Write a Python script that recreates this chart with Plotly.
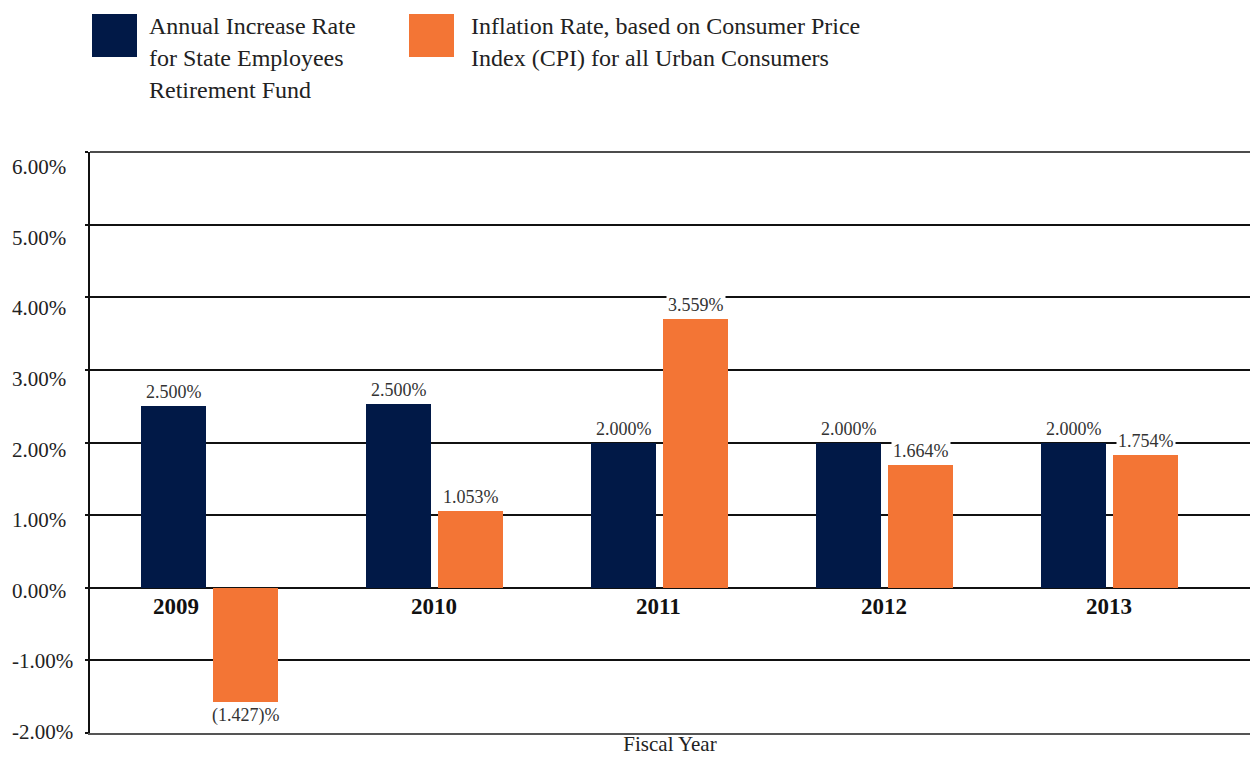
import plotly.graph_objects as go

# ---- data ----
years = ["2009", "2010", "2011", "2012", "2013"]
retirement_rate = [2.50, 2.53, 2.00, 2.00, 2.00]          # bar heights as drawn
cpi_rate = [-1.57, 1.05, 3.70, 1.69, 1.83]                # bar heights as drawn
retirement_labels = ["2.500%", "2.500%", "2.000%", "2.000%", "2.000%"]
cpi_labels = ["(1.427)%", "1.053%", "3.559%", "1.664%", "1.754%"]
y_tickvals = [-2, -1, 0, 1, 2, 3, 4, 5, 6]
y_ticktext = ["-2.00%", "-1.00%", "0.00%", "1.00%", "2.00%", "3.00%", "4.00%", "5.00%", "6.00%"]
legend_navy = ["Annual Increase Rate", "for State Employees", "Retirement Fund"]
legend_orange = ["Inflation Rate, based on Consumer Price", "Index (CPI) for all Urban Consumers"]

NAVY = "#011947"
ORANGE = "#F37535"
FONT = "Liberation Serif"

W, H = 1250, 757
ML, MR, MT, MB = 90, 0, 152, 24
PW, PH = W - ML - MR, H - MT - MB

def px(x):
    return (x - ML) / PW

def py(y):
    return (H - MB - y) / PH

BW = 0.289
NAVY_OFF = -0.302
ORANGE_OFF = 0.018

fig = go.Figure()
fig.add_trace(go.Bar(x=years, y=retirement_rate, marker=dict(color=NAVY, line=dict(width=0)),
                     width=BW, offset=NAVY_OFF, name=legend_navy[0], showlegend=False))
fig.add_trace(go.Bar(x=years, y=cpi_rate, marker=dict(color=ORANGE, line=dict(width=0)),
                     width=BW, offset=ORANGE_OFF, name=legend_orange[0], showlegend=False))

ann = []
for i, y in enumerate(years):
    # data labels
    for val, lab, off in ((retirement_rate[i], retirement_labels[i], NAVY_OFF),
                          (cpi_rate[i], cpi_labels[i], ORANGE_OFF)):
        ann.append(dict(x=i + off + BW / 2, y=val, xref="x", yref="y", text=lab,
                        showarrow=False, yanchor="bottom" if val >= 0 else "top",
                        yshift=2 if val >= 0 else -1, bgcolor="white", borderpad=1,
                        font=dict(family=FONT, size=18, color="#333333")))
    # category labels
    ann.append(dict(x=i, y=0, xref="x", yref="y", text="<b>%s</b>" % y, showarrow=False,
                    yanchor="middle", yshift=-19, xshift=-33 if i == 0 else 0,
                    font=dict(family=FONT, size=23, color="#111111")))

# y tick labels (left aligned, as in the reference)
for v, t in zip(y_tickvals, y_ticktext):
    ann.append(dict(x=px(10), y=v, xref="paper", yref="y", text=t, showarrow=False,
                    xanchor="left", yanchor="middle", yshift=-(3 + 2.0 * v),
                    font=dict(family=FONT, size=21, color="#222222")))

# legend (drawn manually)
shapes = [
    dict(type="rect", xref="paper", yref="paper", x0=px(92), x1=px(137), y0=py(57), y1=py(14),
         fillcolor=NAVY, line=dict(width=0)),
    dict(type="rect", xref="paper", yref="paper", x0=px(409), x1=px(454), y0=py(57), y1=py(14),
         fillcolor=ORANGE, line=dict(width=0)),
    dict(type="line", xref="paper", yref="paper", x0=0, x1=1, y0=1, y1=1,
         line=dict(color="#111111", width=1.5), layer="below"),
]
for k, line in enumerate(legend_navy):
    ann.append(dict(x=px(147), y=py(26 + 32 * k), xref="paper", yref="paper", text=line,
                    showarrow=False, xanchor="left", yanchor="middle",
                    font=dict(family=FONT, size=24, color="#222222")))
for k, line in enumerate(legend_orange):
    ann.append(dict(x=px(469), y=py(26 + 32 * k), xref="paper", yref="paper", text=line,
                    showarrow=False, xanchor="left", yanchor="middle",
                    font=dict(family=FONT, size=24, color="#222222")))

fig.update_layout(
    width=W, height=H,
    margin=dict(l=ML, r=MR, t=MT, b=MB, autoexpand=False),
    paper_bgcolor="white", plot_bgcolor="white",
    bargap=0, annotations=ann, shapes=shapes,
    font=dict(family=FONT, color="#222222"),
    xaxis=dict(range=[-0.529, 4.627], showticklabels=False, showgrid=False, ticks="",
               showline=True, linecolor="#555555", linewidth=1.5, automargin=False,
               title=dict(text="Fiscal Year", standoff=3, font=dict(family=FONT, size=21, color="#222222"))),
    yaxis=dict(range=[-2, 6], tickvals=y_tickvals, showticklabels=False, showgrid=True,
               gridcolor="#111111", gridwidth=1.5, zeroline=True, zerolinecolor="#111111",
               zerolinewidth=1.5, showline=True, linecolor="#111111", linewidth=1.5,
               ticks="outside", ticklen=3, tickcolor="#111111", tickwidth=1.5, automargin=False),
)

fig.write_html("out.html")
